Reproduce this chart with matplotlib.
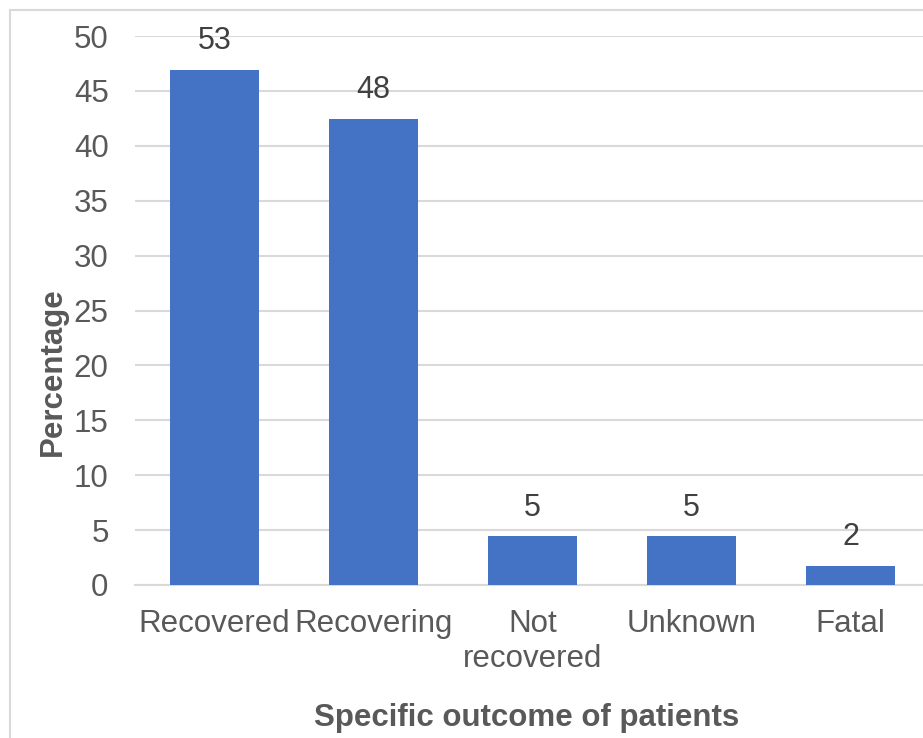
import matplotlib.pyplot as plt
from matplotlib.patches import Rectangle

outcomes = ['Recovered', 'Recovering', 'Not\nrecovered', 'Unknown', 'Fatal']
patients = [53, 48, 5, 5, 2]
total_patients = 113
y_ticks = [0, 5, 10, 15, 20, 25, 30, 35, 40, 45, 50]

percent = [n / total_patients * 100 for n in patients]

plt.rcParams['font.family'] = ['Liberation Sans', 'DejaVu Sans']

fig = plt.figure(figsize=(9.23, 7.38), dpi=100)
# chart area border, cut by the right and bottom edges
fig.patches.append(Rectangle((10 / 923, -0.05), 1.0, 1 - 10 / 738 + 0.05,
                             transform=fig.transFigure, fill=False,
                             edgecolor='#d9d9d9', linewidth=1.5))

ax = fig.add_axes([135 / 923, 1 - 585 / 738, 795 / 923, 549 / 738])
x = range(len(outcomes))
ax.bar(x, percent, width=0.566, color='#4472c4', zorder=3)
for xi, p, n in zip(x, percent, patients):
    ax.annotate(str(n), (xi, p), xytext=(0, 10), textcoords='offset points',
                ha='center', va='bottom', fontsize=22, color='#404040')

ax.set_xlim(-0.5, 4.5)
ax.set_ylim(0, 50)
ax.set_yticks(y_ticks)
ax.set_xticks(list(x))
ax.set_xticklabels(outcomes, linespacing=1.25)
ax.tick_params(axis='both', length=0, labelsize=22.5, colors='#595959')
ax.tick_params(axis='x', pad=17)
ax.tick_params(axis='y', pad=19)
ax.grid(axis='y', color='#d9d9d9', linewidth=1.5, zorder=0)
for side in ['top', 'right', 'left']:
    ax.spines[side].set_visible(False)
ax.spines['bottom'].set_color('#d9d9d9')
ax.spines['bottom'].set_linewidth(1.5)

ax.set_ylabel('Percentage', fontsize=22.5, fontweight='bold', color='#595959')
ax.yaxis.set_label_coords(-0.084, 0.388)
ax.set_xlabel('Specific outcome of patients', fontsize=22.5, fontweight='bold',
              color='#595959')
ax.xaxis.set_label_coords(0.493, -0.215)

fig.savefig('out.png', dpi=100)
